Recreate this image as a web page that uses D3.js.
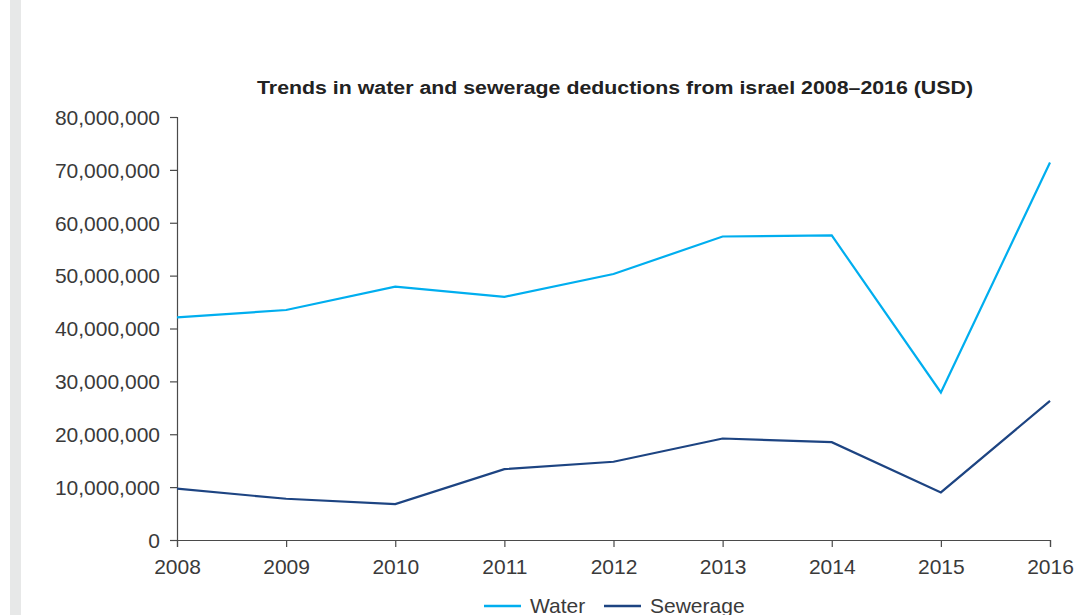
<!DOCTYPE html>
<html>
<head>
<meta charset="utf-8">
<script src="https://cdn.jsdelivr.net/npm/d3@7"></script>
<style>
  html, body { margin: 0; padding: 0; background: #fff; }
  svg { display: block; }
  .tick text { font-family: "Liberation Sans", Arial, Helvetica, sans-serif; font-size: 21px; fill: #3a3a3a; }
</style>
</head>
<body>
<svg id="chart" width="1080" height="615"></svg>
<script>
// Water and sewerage deductions, USD
const years = ["2008", "2009", "2010", "2011", "2012", "2013", "2014", "2015", "2016"];
const water = [42100000, 43500000, 47900000, 46000000, 50300000, 57400000, 57600000, 27900000, 71400000];
const sewerage = [9700000, 7800000, 6800000, 13400000, 14800000, 19200000, 18500000, 9000000, 26300000];
const yTicks = [0, 10000000, 20000000, 30000000, 40000000, 50000000, 60000000, 70000000, 80000000];
const seriesNames = ["Water", "Sewerage"];
const colors = ["#00aeef", "#1d4482"];
const title = "Trends in water and sewerage deductions from israel 2008\u20132016 (USD)";

const svg = d3.select("#chart");
const W = 1080, H = 615;
const margin = { left: 177, right: 30, top: 117, bottom: 75 };

// side band on the left edge
svg.append("rect").attr("x", 10).attr("y", 0).attr("width", 11).attr("height", H).attr("fill", "#e7e8e8");

const x = d3.scalePoint().domain(years).range([margin.left, W - margin.right]);
const y = d3.scaleLinear().domain([0, 80000000]).range([H - margin.bottom, margin.top]);

const fmt = d3.format(",");

// axes
const yAxis = svg.append("g")
  .attr("transform", `translate(${margin.left},0)`)
  .call(d3.axisLeft(y).tickValues(yTicks).tickFormat(d => fmt(d)).tickSize(7).tickPadding(10));
const xAxis = svg.append("g")
  .attr("transform", `translate(0,${H - margin.bottom})`)
  .call(d3.axisBottom(x).tickSize(7).tickPadding(12));
[yAxis, xAxis].forEach(g => {
  g.select(".domain").attr("stroke", "#4a4a4a").attr("stroke-width", 1.2);
  g.selectAll(".tick line").attr("stroke", "#4a4a4a").attr("stroke-width", 1.2);
});
yAxis.selectAll(".tick text").attr("dy", "0.35em");

// lines
const line = d3.line().x((d, i) => x(years[i])).y(d => y(d));
[water, sewerage].forEach((vals, k) => {
  svg.append("path")
    .datum(vals)
    .attr("d", line)
    .attr("fill", "none")
    .attr("stroke", colors[k])
    .attr("stroke-width", 2.2)
    .attr("stroke-linejoin", "miter");
});

// title
const t = svg.append("text")
  .attr("x", 615).attr("y", 94)
  .attr("text-anchor", "middle")
  .attr("font-family", "'Liberation Sans', Arial, Helvetica, sans-serif")
  .attr("font-weight", "bold")
  .attr("font-size", 18)
  .attr("fill", "#222")
  .text(title);
const tw = t.node().getComputedTextLength();
if (tw > 0) t.attr("textLength", 716).attr("lengthAdjust", "spacingAndGlyphs");

// legend
const legend = svg.append("g").attr("transform", "translate(0,606)");
const legendX = [484, 604];
seriesNames.forEach((name, k) => {
  legend.append("line")
    .attr("x1", legendX[k]).attr("x2", legendX[k] + 37)
    .attr("y1", 0).attr("y2", 0)
    .attr("stroke", colors[k]).attr("stroke-width", 2.5);
  legend.append("text")
    .attr("x", legendX[k] + 46).attr("y", 7)
    .attr("font-family", "'Liberation Sans', Arial, Helvetica, sans-serif")
    .attr("font-size", 21)
    .attr("fill", "#3a3a3a")
    .text(name);
});
</script>
</body>
</html>
